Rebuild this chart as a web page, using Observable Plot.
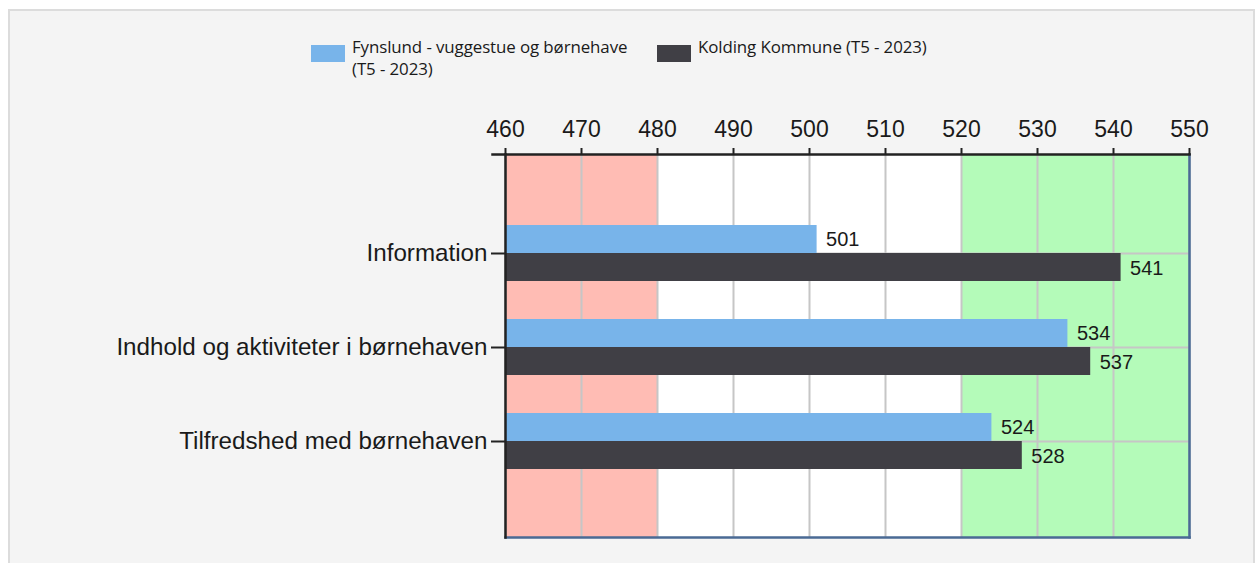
<!DOCTYPE html>
<html>
<head>
<meta charset="utf-8">
<script src="https://cdn.jsdelivr.net/npm/d3@7"></script>
<script src="https://cdn.jsdelivr.net/npm/@observablehq/plot@0.6"></script>
<style>
  html, body { margin: 0; padding: 0; background: #ffffff; width: 1260px; height: 563px; overflow: hidden; }
  #card { position: absolute; left: 8px; top: 9px; width: 1247px; height: 570px; background: #f4f4f4; border: 2px solid #dcdcdc; box-sizing: border-box; }
  #legend { position: absolute; left: 311px; top: 36px; font-family: "Open Sans", "Liberation Sans", Arial, sans-serif; font-size: 16.9px; color: #1a1a1a; line-height: 22px; letter-spacing: -0.1px; }
  .item { position: absolute; top: 0; white-space: nowrap; }
  .sw { position: absolute; top: 9px; left: 0; width: 34px; height: 17px; }
  .lbl { position: absolute; left: 41px; top: 0; }
  #chart { position: absolute; left: 0; top: 100px; }
</style>
</head>
<body>
<div id="card"></div>
<div id="legend"></div>
<div id="chart"></div>
<script>
// ---- data ----
const categories = ["Information", "Indhold og aktiviteter i børnehaven", "Tilfredshed med børnehaven"];
const seriesNames = ["Fynslund - vuggestue og børnehave (T5 - 2023)", "Kolding Kommune (T5 - 2023)"];
const fynslundValues = [501, 534, 524];
const koldingValues = [541, 537, 528];
const xTicks = [460, 470, 480, 490, 500, 510, 520, 530, 540, 550];
const zoneStarts = [460, 480, 520];
const zoneEnds = [480, 520, 550];
const zoneColors = ["#ffbcb4", "#ffffff", "#b4fbb9"];
const seriesColors = ["#78b4ea", "#403f45"];

const fyn = categories.map((c, i) => ({cat: c, value: fynslundValues[i]}));
const kol = categories.map((c, i) => ({cat: c, value: koldingValues[i]}));
const zones = zoneStarts.map((s, i) => ({x1: s, x2: zoneEnds[i], fill: zoneColors[i]}));

// ---- legend ----
const legend = document.getElementById("legend");
const legendItems = [
  {left: 0, color: seriesColors[0], html: "Fynslund - vuggestue og børnehave<br>(T5 - 2023)"},
  {left: 346, color: seriesColors[1], html: "Kolding Kommune (T5 - 2023)"}
];
legendItems.forEach(it => {
  const d = document.createElement("div");
  d.className = "item";
  d.style.left = it.left + "px";
  d.innerHTML = `<div class="sw" style="background:${it.color}"></div><div class="lbl">${it.html}</div>`;
  legend.appendChild(d);
});

// ---- chart ----
const font = "'Liberation Sans', Arial, sans-serif";
const chart = Plot.plot({
  width: 1260,
  height: 463,
  marginLeft: 505,
  marginRight: 71,
  marginTop: 54,
  marginBottom: 26,
  style: {background: "transparent", fontFamily: font, color: "#1a1a1a"},
  x: {domain: [460, 550], ticks: xTicks},
  y: {type: "band", domain: categories, range: [106, 388], padding: 0},
  marks: [
    Plot.rect(zones, {x1: "x1", x2: "x2", fill: "fill"}),
    Plot.ruleX(xTicks, {stroke: "#c6c6c6", strokeWidth: 2}),
    Plot.ruleY(categories, {stroke: "#c6c6c6", strokeWidth: 2}),
    Plot.barX(fyn, {y: "cat", x1: 460, x2: "value", fill: seriesColors[0], insetTop: 19, insetBottom: 47}),
    Plot.barX(kol, {y: "cat", x1: 460, x2: "value", fill: seriesColors[1], insetTop: 47, insetBottom: 19}),
    Plot.text(fyn, {y: "cat", x: "value", text: d => String(d.value), textAnchor: "start", dx: 9, dy: -14, fontSize: 20, fill: "#1a1a1a"}),
    Plot.text(kol, {y: "cat", x: "value", text: d => String(d.value), textAnchor: "start", dx: 9, dy: 15, fontSize: 20, fill: "#1a1a1a"}),
    Plot.frame({anchor: "bottom", stroke: "#4a6a94", strokeWidth: 2.5}),
    Plot.frame({anchor: "right", stroke: "#4a6a94", strokeWidth: 2.5}),
    Plot.frame({anchor: "top", stroke: "#222", strokeWidth: 2.5, insetLeft: -13}),
    Plot.frame({anchor: "left", stroke: "#222", strokeWidth: 2.5}),
    Plot.axisX({anchor: "top", ticks: xTicks, tickSize: 7, tickPadding: 11, fontSize: 23, label: null, stroke: "#222", strokeWidth: 2, fill: "#1a1a1a"}),
    Plot.axisY({anchor: "left", tickSize: 14, tickPadding: 4, fontSize: 24.2, label: null, stroke: "#222", strokeWidth: 2, fill: "#1a1a1a"})
  ]
});
document.getElementById("chart").appendChild(chart);
</script>
</body>
</html>
